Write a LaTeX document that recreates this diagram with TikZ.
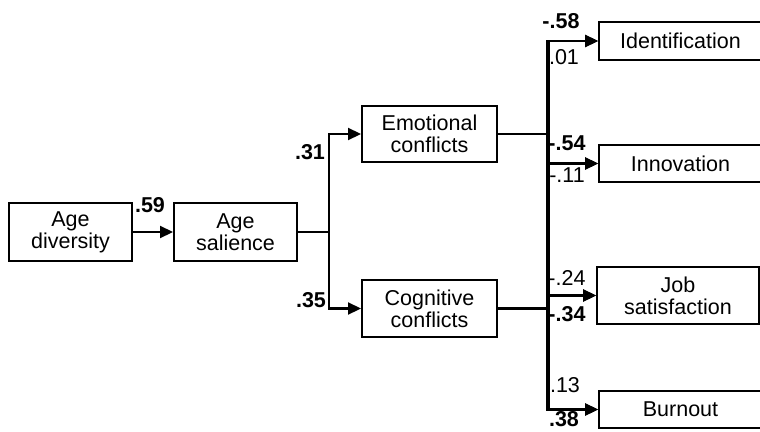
\documentclass[tikz,border=0pt]{standalone}
\usepackage{fontspec}
\setmainfont{Liberation Sans}
\usetikzlibrary{arrows.meta}

\begin{document}
\begin{tikzpicture}[x=1pt,y=-1pt,
    box/.style={draw,line width=2pt,inner sep=0pt,align=center,font=\fontsize{21.5}{22}\selectfont},
    link/.style={line width=2.2pt,-{Triangle[length=13pt,width=12pt]}},
    coef/.style={inner sep=0pt,font=\fontsize{21.5}{21.5}\selectfont},
    bcoef/.style={inner sep=0pt,font=\fontsize{21.5}{21.5}\selectfont\bfseries}]
    \useasboundingbox (0,0) rectangle (760,431);
    \node[box,minimum width=123pt,minimum height=58pt] (div) at (70.5,232) {Age\\diversity};
    \node[box,minimum width=123pt,minimum height=58pt] (sal) at (235.5,232) {Age\\salience};
    \node[box,minimum width=135pt,minimum height=56pt] (emo) at (429.5,134) {Emotional\\conflicts};
    \node[box,minimum width=135pt,minimum height=57pt] (cog) at (429.5,308.5) {Cognitive\\conflicts};
    \node[box,minimum width=163pt,minimum height=38pt] (ident) at (680.5,41) {Identification};
    \node[box,minimum width=163pt,minimum height=37pt] (innov) at (680.5,163.5) {Innovation};
    \node[box,minimum width=162pt,minimum height=57pt] (job) at (678,295.5) {Job\\satisfaction};
    \node[box,minimum width=163pt,minimum height=37pt] (burn) at (680.5,409.5) {Burnout};
    \coordinate (j1) at (329,232);
    \coordinate (j2) at (547.5,134);
    \coordinate (j3) at (549,308.5);
    \draw[link] (div) -- (sal);
    \draw[line width=2.2pt] (sal) -- (j1);
    \draw[link] (j1) |- (emo);
    \draw[link] (j1) |- (cog);
    \draw[line width=2.2pt] (emo) -- (j2);
    \draw[line width=2.2pt] (cog) -- (j3);
    \foreach \t in {ident,innov,job,burn} {
        \draw[link] (j2) |- (\t);
        \draw[link] (j3) |- (\t);
    }
    % path coefficients
    \node[bcoef] (c59) at (150,205) {.59};
    \node[bcoef] (c31) at (310,152) {.31};
    \node[bcoef] (c35) at (311,300) {.35};
    \node[bcoef] (c58) at (561,21) {-.58};
    \node[coef] (c01) at (564,57) {.01};
    \node[bcoef] (c54) at (567,143) {-.54};
    \node[coef] (c11) at (567,175) {-.11};
    \node[coef] (c24) at (567,278) {-.24};
    \node[bcoef] (c34) at (567,314) {-.34};
    \node[coef] (c13) at (565,385) {.13};
    \node[bcoef] (c38) at (564,419) {.38};
\end{tikzpicture}
\end{document}
